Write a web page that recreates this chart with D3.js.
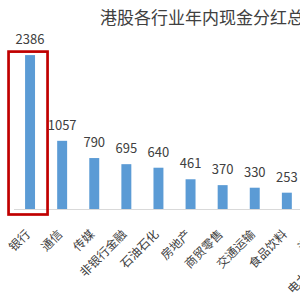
<!DOCTYPE html>
<meta charset="utf-8" />
<head>
  <style>
    body { margin: 0; background: #fff; }
    svg text { font-family: "Noto Sans CJK SC", "Noto Sans", sans-serif; fill: #404040; }
    .domain { display: none; }
    g.tick line { display: none; }
  </style>
</head>
<script src="https://d3js.org/d3.v7.min.js"></script>
<body>
  <div id="chart"></div>
  <script>
    // data (last two are mostly cut off on the right)
    const industries = ["银行", "通信", "传媒", "非银行金融", "石油石化", "房地产",
      "商贸零售", "交通运输", "食品饮料", "汽车", "电力及公用事业"];
    const dividends = [2386, 1057, 790, 695, 640, 461, 370, 330, 253, 235, 220];
    const title = "港股各行业年内现金分红总额（亿港元）";

    const svgWidth = 300;
    const svgHeight = 300;
    const baseY = 209;

    const svg = d3.select("#chart")
      .append("svg")
      .attr("width", svgWidth)
      .attr("height", svgHeight);

    // scales
    const step = 32.1;
    const x = d3.scaleBand()
      .domain(industries)
      .range([14, 14 + step * industries.length])
      .paddingInner(0.69)
      .paddingOuter(0.345);

    const y = d3.scaleLinear().domain([0, 2400]).range([baseY, 54.2]);

    // title
    svg.append("text")
      .attr("x", 100)
      .attr("y", 24)
      .attr("font-size", "17px")
      .text(title);

    // baseline
    svg.append("line")
      .attr("x1", x.range()[0])
      .attr("x2", x.range()[1])
      .attr("y1", baseY + 0.5)
      .attr("y2", baseY + 0.5)
      .attr("stroke", "#d9d9d9")
      .attr("stroke-width", 1);

    // bars
    svg.selectAll("rect.bar")
      .data(industries)
      .join("rect")
      .attr("class", "bar")
      .attr("x", (d) => x(d))
      .attr("width", x.bandwidth())
      .attr("y", (d, i) => y(dividends[i]))
      .attr("height", (d, i) => y(0) - y(dividends[i]))
      .attr("fill", "#5b9bd5");

    // value labels
    svg.selectAll("text.value")
      .data(industries)
      .join("text")
      .attr("class", "value")
      .attr("x", (d) => x(d) + x.bandwidth() / 2)
      .attr("y", (d, i) => y(dividends[i]) - 11)
      .attr("text-anchor", "middle")
      .attr("font-size", "13px")
      .text((d, i) => dividends[i]);

    // category labels, rotated
    svg.selectAll("text.cat")
      .data(industries)
      .join("text")
      .attr("class", "cat")
      .attr("transform", (d) => `translate(${x(d) + x.bandwidth() / 2 + 1},235) rotate(-45)`)
      .attr("text-anchor", "end")
      .attr("font-size", "12px")
      .text((d) => d);

    // red highlight box round the first bar
    const first = industries[0];
    svg.append("rect")
      .attr("x", x(first) + x.bandwidth() / 2 - 21.5)
      .attr("y", y(dividends[0]) - 3.5)
      .attr("width", 39)
      .attr("height", y(0) - y(dividends[0]) + 9)
      .attr("fill", "none")
      .attr("stroke", "#c00000")
      .attr("stroke-width", 2.7);
  </script>
</body>
